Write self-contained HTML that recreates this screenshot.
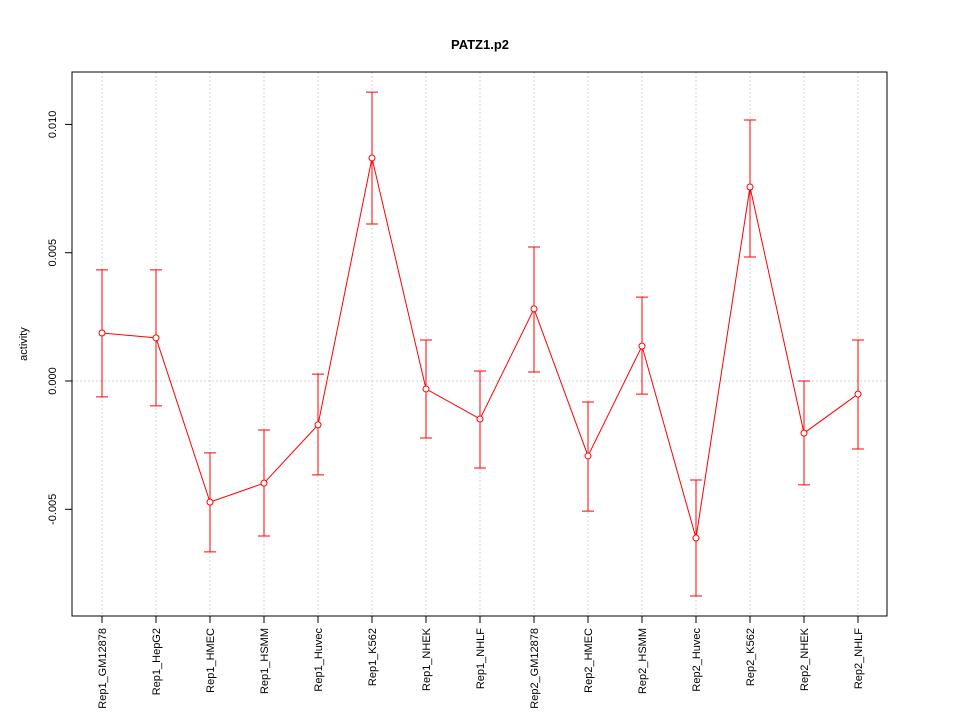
<!DOCTYPE html>
<html><head><meta charset="utf-8"><style>
body{margin:0;background:#fff;}
svg text{font-family:"Liberation Sans",Arial,sans-serif;}
</style></head><body>
<svg id="chart" width="960" height="720" xmlns="http://www.w3.org/2000/svg">
<rect width="960" height="720" fill="#fff"/>
<text x="480" y="49" text-anchor="middle" font-size="13" font-weight="bold">PATZ1.p2</text>
<text transform="translate(27,344) rotate(-90)" text-anchor="middle" font-size="11">activity</text>
<g id="grid"></g><g id="axes"></g><g id="series"></g>
<rect x="72" y="72" width="815" height="544" fill="none" stroke="#000"/>
</svg>
<script>
const categories=["Rep1_GM12878","Rep1_HepG2","Rep1_HMEC","Rep1_HSMM","Rep1_Huvec","Rep1_K562","Rep1_NHEK","Rep1_NHLF","Rep2_GM12878","Rep2_HMEC","Rep2_HSMM","Rep2_Huvec","Rep2_K562","Rep2_NHEK","Rep2_NHLF"];
const values=[0.00187,0.00168,-0.00472,-0.00398,-0.00171,0.00869,-0.00031,-0.00148,0.00281,-0.00292,0.00136,-0.00612,0.00756,-0.00203,-0.00051];
const upper=[0.00433,0.00433,-0.0028,-0.00191,0.00027,0.01126,0.0016,0.00039,0.00522,-0.00082,0.00327,-0.00386,0.01017,0.0,0.0016];
const lower=[-0.00062,-0.00097,-0.00666,-0.00604,-0.00366,0.00612,-0.00222,-0.00339,0.00035,-0.00507,-0.00051,-0.00838,0.00483,-0.00405,-0.00265];
const yTicks=[-0.005,0.000,0.005,0.010];
const yTickLabels=["-0.005","0.000","0.005","0.010"];
const NS="http://www.w3.org/2000/svg";
const xs=i=>102+i*54;
const ys=v=>381-v*25660;
function mk(tag,attrs,parent){const e=document.createElementNS(NS,tag);for(const k in attrs)e.setAttribute(k,attrs[k]);parent.appendChild(e);return e;}
const grid=document.getElementById('grid'),axes=document.getElementById('axes'),ser=document.getElementById('series');
categories.forEach((c,i)=>{
  const g=mk('line',{x1:xs(i),x2:xs(i),y1:72,y2:616,stroke:'#d3d3d3','stroke-dasharray':'2,2'},grid);
  
  
  const t=mk('line',{x1:xs(i),x2:xs(i),y1:616,y2:623,stroke:'#000'},axes);
  
  
  const l=mk('text',{transform:`translate(${xs(i)+4},628) rotate(-90)`,'text-anchor':'end','font-size':'11'},axes);
  l.textContent=c;
  
  
});
const h=mk('line',{x1:72,x2:887,y1:ys(0),y2:ys(0),stroke:'#d3d3d3','stroke-dasharray':'2,2'},grid);


yTicks.forEach((v,i)=>{
  const t=mk('line',{x1:65,x2:72,y1:ys(v),y2:ys(v),stroke:'#000'},axes);
  
  
  const l=mk('text',{transform:`translate(56,${ys(v)}) rotate(-90)`,'text-anchor':'middle','font-size':'11'},axes);
  l.textContent=yTickLabels[i];
  
  
});
const pl=mk('polyline',{points:values.map((v,i)=>xs(i)+','+ys(v)).join(' '),fill:'none',stroke:'#ff0000'},ser);


values.forEach((v,i)=>{
  const x=xs(i);
  const e=mk('path',{d:`M${x},${ys(upper[i])}V${ys(lower[i])}M${x-6},${ys(upper[i])}H${x+6}M${x-6},${ys(lower[i])}H${x+6}`,stroke:'#ff0000',fill:'none'},ser);
  
  
  const p=mk('circle',{cx:x,cy:ys(v),r:3,fill:'#fff',stroke:'#ff0000'},ser);
  
  
});
</script>
</body></html>
